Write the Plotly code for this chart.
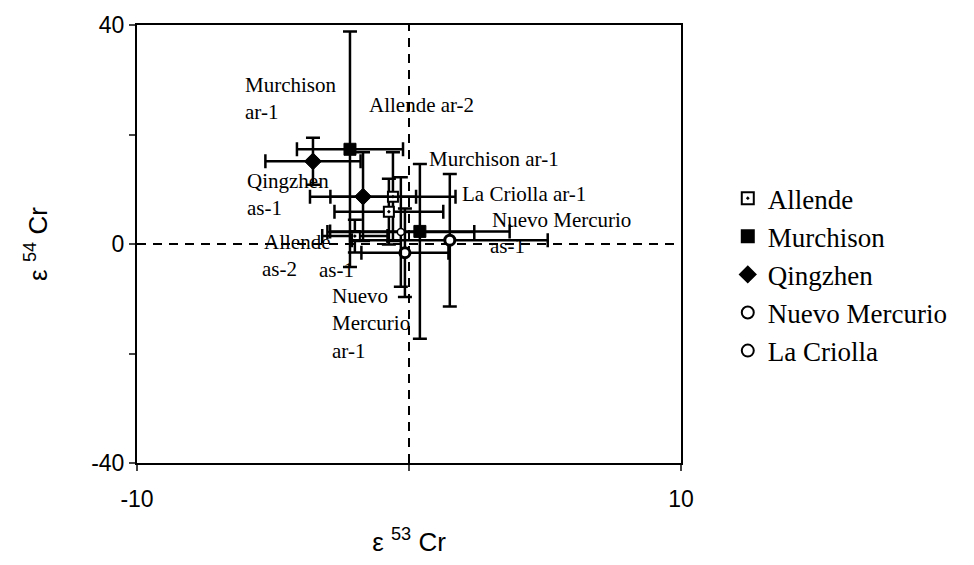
import plotly.graph_objects as go

# ---- data (epsilon 53Cr, epsilon 54Cr, errors) ----
allende_x = [-0.59, -0.74, -1.99]
allende_y = [8.65, 5.9, 1.44]
allende_xerr = [2.3, 2.0, 1.2]
allende_yerr = [8.1, 6.0, 3.0]

murchison_x = [-2.17, 0.4]
murchison_y = [17.3, 2.3]
murchison_xerr = [1.95, 3.3]
murchison_yerr_plus = [21.5, 12.3]
murchison_yerr_minus = [21.5, 19.6]

qingzhen_x = [-3.53, -1.69]
qingzhen_y = [15.1, 8.65]
qingzhen_xerr = [1.75, 1.95]
qingzhen_yerr = [4.3, 8.1]

nuevo_x = [1.5, -0.15]
nuevo_y = [0.7, -1.6]
nuevo_xerr = [3.6, 1.6]
nuevo_yerr = [12.1, 8.1]

criolla_x = [-0.3]
criolla_y = [2.2]
criolla_xerr = [2.7]
criolla_yerr = [10.0]

label_text = ["Murchison<br>ar-1", "Allende ar-2", "Qingzhen<br>as-1", "Murchison ar-1",
              "La Criolla ar-1", "Nuevo Mercurio", "as-1", "Allende", "as-2", "as-1",
              "Nuevo<br>Mercurio<br>ar-1"]
label_x = [-6.1, -1.54, -6.03, 0.66, 1.87, 2.98, 2.9, -5.4, -5.48, -3.38, -2.9]
label_y = [26.6, 25.4, 9.0, 15.5, 9.2, 4.3, -0.4, 0.4, -4.5, -4.7, -14.5]

fig = go.Figure()

def add(name, xs, ys, xe, ye_plus, ye_minus, symbol, size, fill, lw):
    fig.add_trace(go.Scatter(
        x=xs, y=ys, mode="markers", name=name,
        marker=dict(symbol=symbol, size=size, color=fill,
                    line=dict(color="black", width=lw)),
        error_x=dict(type="data", array=xe, color="black", thickness=2.5, width=7),
        error_y=dict(type="data", array=ye_plus, arrayminus=ye_minus,
                     color="black", thickness=2.5, width=7),
    ))

add("Allende", allende_x, allende_y, allende_xerr, allende_yerr, allende_yerr,
    "square-dot", 10, "white", 2)
add("Murchison", murchison_x, murchison_y, murchison_xerr, murchison_yerr_plus,
    murchison_yerr_minus, "square", 12, "black", 1)
add("Qingzhen", qingzhen_x, qingzhen_y, qingzhen_xerr, qingzhen_yerr, qingzhen_yerr,
    "diamond", 13, "black", 1)
add("Nuevo Mercurio", nuevo_x, nuevo_y, nuevo_xerr, nuevo_yerr, nuevo_yerr,
    "circle", 10, "white", 3)
add("La Criolla", criolla_x, criolla_y, criolla_xerr, criolla_yerr, criolla_yerr,
    "circle", 7, "white", 1.5)

for text, x, y in zip(label_text, label_x, label_y):
    fig.add_annotation(x=x, y=y, text=text, showarrow=False, xanchor="left",
                       yanchor="middle", align="left", bgcolor="rgba(0,0,0,0)",
                       font=dict(family="Liberation Serif", size=21, color="black"))

# dashed crosshair at zero
fig.add_shape(type="line", x0=0, x1=0, y0=-40, y1=40, xref="x", yref="y",
              line=dict(color="black", width=2, dash="9px,7px"), layer="below")
fig.add_shape(type="line", x0=-10, x1=10, y0=0, y1=0, xref="x", yref="y",
              line=dict(color="black", width=2, dash="9px,7px"), layer="below")

fig.update_layout(
    width=974, height=565,
    margin=dict(l=137, r=293, t=19, b=102),
    paper_bgcolor="white", plot_bgcolor="white",
    showlegend=True,
    legend=dict(x=1.086, y=0.43, xanchor="left", yanchor="middle",
                font=dict(family="Liberation Serif", size=27, color="black"),
                itemsizing="constant", tracegroupgap=0, bgcolor="rgba(0,0,0,0)"),
    font=dict(family="Liberation Sans", color="black"),
)
fig.update_xaxes(range=[-10, 10], tickvals=[-10, 0, 10], ticktext=["-10", "", "10"],
                 ticks="outside", ticklen=6, tickwidth=2, showgrid=False, zeroline=False,
                 showline=True, linecolor="black", linewidth=2, mirror=True,
                 ticklabelstandoff=8,
                 tickfont=dict(size=23, family="Liberation Sans"),
                 title=dict(text="ε <sup>53</sup> Cr", font=dict(size=26), standoff=22))
fig.update_yaxes(range=[-40, 40], tickvals=[-40, -20, 0, 20, 40], ticktext=["-40", "", "0", "", "40"],
                 ticks="outside", ticklen=6, tickwidth=2, showgrid=False, zeroline=False,
                 showline=True, linecolor="black", linewidth=2, mirror=True,
                 tickfont=dict(size=23, family="Liberation Sans"),
                 title=dict(text="ε <sup>54</sup> Cr", font=dict(size=26), standoff=36))

fig.write_html("out.html")
